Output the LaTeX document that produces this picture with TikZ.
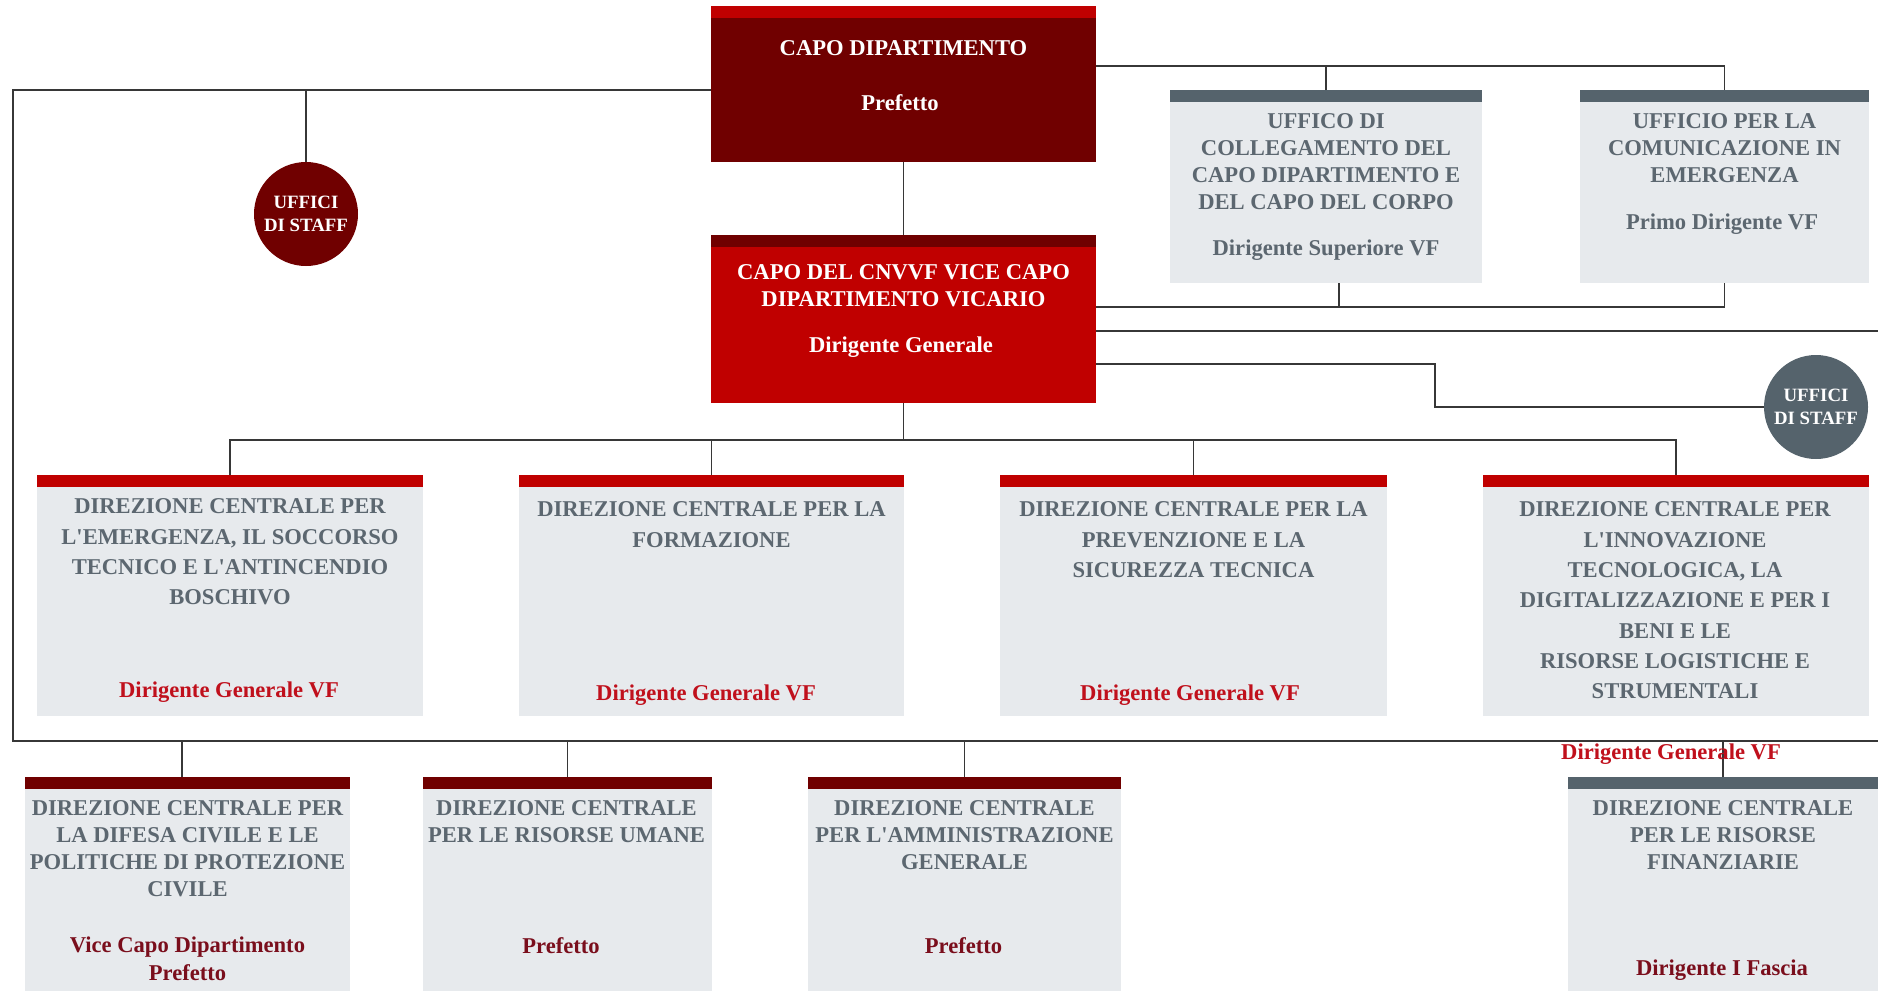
\documentclass[tikz,border=0pt]{standalone}
\usepackage{fontspec}
\setmainfont{Liberation Serif}
\usetikzlibrary{calc}
\definecolor{redB}{RGB}{192,0,0}
\definecolor{redD}{RGB}{112,0,0}
\definecolor{grayBar}{RGB}{85,99,108}
\definecolor{boxFill}{RGB}{231,234,237}
\definecolor{grayTxt}{RGB}{92,103,112}
\definecolor{redTxt}{RGB}{192,16,28}
\definecolor{darkTxt}{RGB}{122,14,28}
\definecolor{lineC}{RGB}{55,55,55}
\newcommand{\ap}{\textquotesingle}
\begin{document}
\begin{tikzpicture}[x=0.5pt,y=-0.5pt,
  box/.style args={#1/#2/#3/#4}{rectangle, inner sep=0pt, outer sep=0pt, anchor=north west,
    minimum width=#1, minimum height=#2, fill=#3,
    path picture={\fill[#4] (path picture bounding box.north west) rectangle ([yshift=-6pt]path picture bounding box.north east);}},
  hd/.style={font=\fontsize{11.3pt}{13.5pt}\selectfont\bfseries, text=grayTxt, align=center,
    anchor=north, inner sep=0pt, execute at begin node={\rule{0pt}{8pt}}},
  hdw/.style={hd, font=\fontsize{11.3pt}{15.15pt}\selectfont\bfseries},
  wt/.style={hd, text=white},
  rt/.style={hd, text=redTxt},
  dt/.style={hd, text=darkTxt, font=\fontsize{11.3pt}{14pt}\selectfont\bfseries},
  staff/.style={circle, inner sep=0pt, outer sep=0pt, minimum size=52pt, text=white, align=center,
    font=\fontsize{9.4pt}{11.5pt}\selectfont\bfseries},
  conn/.style={draw=lineC, line width=0.75pt}
]
\useasboundingbox (0,0) rectangle (1878,991);
\clip (0,0) rectangle (1878,991);

% ---------- boxes ----------
\node[box=192.5pt/78pt/redD/redB] (capo) at (711,6) {};
\node[box=192.5pt/84pt/redB/redD] (cnvvf) at (711,235) {};
\node[box=156pt/96.5pt/boxFill/grayBar] (uffcol) at (1170,90) {};
\node[box=144.5pt/96.5pt/boxFill/grayBar] (uffcom) at (1580,90) {};

\node[box=193pt/120.5pt/boxFill/redB] (r2a) at (37,475) {};
\node[box=192.5pt/120.5pt/boxFill/redB] (r2b) at (519,475) {};
\node[box=193.5pt/120.5pt/boxFill/redB] (r2c) at (1000,475) {};
\node[box=193pt/120.5pt/boxFill/redB] (r2d) at (1483,475) {};

\node[box=162.5pt/107pt/boxFill/redD] (r3a) at (25,777) {};
\node[box=144.5pt/107pt/boxFill/redD] (r3b) at (423,777) {};
\node[box=156.5pt/107pt/boxFill/redD] (r3c) at (808,777) {};
\node[box=155pt/107pt/boxFill/grayBar] (r3d) at (1568,777) {};

\node[staff, fill=redD] (staffL) at (306,214) {UFFICI\\DI STAFF};
\node[staff, fill=grayBar] (staffR) at (1816,407) {UFFICI\\DI STAFF};

% ---------- helper coordinates ----------
\coordinate (lt) at (13,90);
\coordinate (lb) at (13,741);
\coordinate (rb) at (1878,741);
\coordinate (redge) at (1878,331);
\coordinate (hb) at (0,440);
\coordinate (k1) at (1435,364);
\coordinate (c66) at ([yshift=9pt]capo.east);

% ---------- connectors ----------
\draw[conn] (capo.south) -- (cnvvf.north);
\draw[conn] ([yshift=-3pt]capo.west) -- (lt) -- (lb) -- (rb);
\draw[conn] (staffL.north) -- (staffL.north |- lt);
\draw[conn] ([xshift=-2.75pt]r3a.north) -- ([xshift=-2.75pt]r3a.north |- lb);
\draw[conn] (r3b.north) -- (r3b.north |- lb);
\draw[conn] (r3c.north) -- (r3c.north |- lb);
\draw[conn] (r3d.north) -- (r3d.north |- lb);

\draw[conn] (c66) -| (uffcom.north);
\draw[conn] (uffcol.north) -- (uffcol.north |- c66);

\draw[conn] ([yshift=6pt]cnvvf.east) -| (uffcom.south);
\draw[conn] ([xshift=6.5pt]uffcol.south) -- ++(0,24);
\draw[conn] ([yshift=-6pt]cnvvf.east) -- (redge);
\draw[conn] ([yshift=-22.5pt]cnvvf.east) -- (k1) |- (staffR.west);

\draw[conn] (cnvvf.south) -- (cnvvf.south |- hb);
\draw[conn] (r2a.north) -- (r2a.north |- hb) -- (r2d.north |- hb) -- (r2d.north);
\draw[conn] (r2b.north) -- (r2b.north |- hb);
\draw[conn] (r2c.north) -- (r2c.north |- hb);

% ---------- texts ----------
\node[wt] (tcapo) at (903.5,39.5) {CAPO DIPARTIMENTO};
\node[wt] (tcapop) at (900,94.5) {Prefetto};
\node[wt] (tcnv) at (903.5,264.5) {CAPO DEL CNVVF VICE CAPO\\DIPARTIMENTO VICARIO};
\node[wt] (tcnvd) at (901,336.5) {Dirigente Generale};

\node[hd] (tuffcol) at (1326,113.5) {UFFICO DI\\COLLEGAMENTO DEL\\CAPO DIPARTIMENTO E\\DEL CAPO DEL CORPO};
\node[hd] (tuffcold) at (1326,239.5) {Dirigente Superiore VF};
\node[hd] (tuffcom) at (1724.5,113.5) {UFFICIO PER LA\\COMUNICAZIONE IN\\EMERGENZA};
\node[hd] (tuffcomd) at (1722,213.5) {Primo Dirigente VF};

\node[hdw] (tr2a) at (230,498.5) {DIREZIONE CENTRALE PER\\L\ap EMERGENZA, IL SOCCORSO\\TECNICO E L\ap ANTINCENDIO\\BOSCHIVO};
\node[rt] (tr2ad) at (229,681.5) {Dirigente Generale VF};
\node[hdw] (tr2b) at (711.5,501.5) {DIREZIONE CENTRALE PER LA\\FORMAZIONE};
\node[rt] (tr2bd) at (706,684.5) {Dirigente Generale VF};
\node[hdw] (tr2c) at (1193.5,501.5) {DIREZIONE CENTRALE PER LA\\PREVENZIONE E LA\\SICUREZZA TECNICA};
\node[rt] (tr2cd) at (1190,684.5) {Dirigente Generale VF};
\node[hdw] (tr2d) at (1675,501.5) {DIREZIONE CENTRALE PER\\L\ap INNOVAZIONE\\TECNOLOGICA, LA\\DIGITALIZZAZIONE E PER I\\BENI E LE\\RISORSE LOGISTICHE E\\STRUMENTALI};
\node[rt] (tr2dd) at (1671,743.5) {Dirigente Generale VF};

\node[hd] (tr3a) at (187.5,800.5) {DIREZIONE CENTRALE PER\\LA DIFESA CIVILE E LE\\POLITICHE DI PROTEZIONE\\CIVILE};
\node[dt] (tr3ad) at (187.5,936.5) {Vice Capo Dipartimento\\Prefetto};
\node[hd] (tr3b) at (566.5,800.5) {DIREZIONE CENTRALE\\PER LE RISORSE UMANE};
\node[dt] (tr3bd) at (561,937.5) {Prefetto};
\node[hd] (tr3c) at (964.5,800.5) {DIREZIONE CENTRALE\\PER L\ap AMMINISTRAZIONE\\GENERALE};
\node[dt] (tr3cd) at (963.5,937.5) {Prefetto};
\node[hd] (tr3d) at (1723,800.5) {DIREZIONE CENTRALE\\PER LE RISORSE\\FINANZIARIE};
\node[dt] (tr3dd) at (1722,959.5) {Dirigente I Fascia};
\end{tikzpicture}
\end{document}
